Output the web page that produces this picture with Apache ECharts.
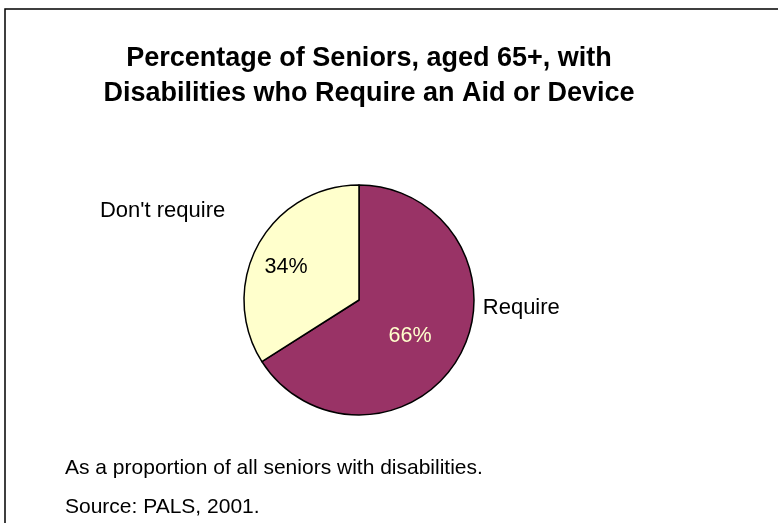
<!DOCTYPE html>
<html>
<head>
<meta charset="utf-8">
<script src="https://cdn.jsdelivr.net/npm/echarts@6/dist/echarts.min.js"></script>
<style>
html,body{margin:0;padding:0;background:#fff;}
#chart{width:778px;height:523px;}
</style>
</head>
<body>
<div id="chart"></div>
<script>
const titleText = "Percentage of Seniors, aged 65+, with\nDisabilities who Require an Aid or Device";
const categories = ["Require", "Don't require"];
const values = [66, 34];
const colors = ["#993366", "#FFFFCC"];
const pctLabelColors = ["#FFFFCC", "#000000"];
const footnotes = ["As a proportion of all seniors with disabilities.", "Source: PALS, 2001."];

const FONT = "'Liberation Sans', Arial, sans-serif";
const pctOffsets = [[-2, 7], [-20, -4]];
const nameOffsets = [[23, -47], [-33, -34]];

const chart = echarts.init(document.getElementById('chart'), null, {renderer: 'canvas'});

const mainData = categories.map((c, i) => ({
  name: c,
  value: values[i],
  itemStyle: {color: colors[i]},
  label: {color: pctLabelColors[i], offset: pctOffsets[i]}
}));
const nameData = categories.map((c, i) => ({
  name: c,
  value: values[i],
  label: {offset: nameOffsets[i]}
}));

const option = {
  animation: false,
  backgroundColor: '#ffffff',
  title: [
    {
      text: titleText,
      left: 369,
      top: 41,
      textAlign: 'center',
      padding: 0,
      textStyle: {fontFamily: FONT, fontSize: 27, fontWeight: 'bold', color: '#000', lineHeight: 35}
    },
    {
      text: footnotes[0],
      left: 65,
      top: 458,
      padding: 0,
      textStyle: {fontFamily: FONT, fontSize: 21, fontWeight: 'normal', color: '#000'}
    },
    {
      text: footnotes[1],
      left: 65,
      top: 497,
      padding: 0,
      textStyle: {fontFamily: FONT, fontSize: 21, fontWeight: 'normal', color: '#000'}
    }
  ],
  graphic: [
    {
      type: 'rect',
      silent: true,
      shape: {x: 5, y: 9, width: 800, height: 600},
      style: {fill: 'none', stroke: '#000', lineWidth: 1.5}
    }
  ],
  series: [
    {
      type: 'pie',
      center: [359, 300],
      radius: [0, 115],
      startAngle: 90,
      clockwise: true,
      data: mainData,
      itemStyle: {borderColor: '#000', borderWidth: 1.5},
      label: {
        show: true,
        position: 'inside',
        formatter: '{c}%',
        fontFamily: FONT,
        fontSize: 21.5
      },
      labelLine: {show: false},
      emphasis: {disabled: true}
    },
    {
      type: 'pie',
      center: [359, 300],
      radius: [0, 115],
      startAngle: 90,
      clockwise: true,
      silent: true,
      data: nameData,
      itemStyle: {color: 'rgba(0,0,0,0)', borderWidth: 0},
      label: {
        show: true,
        position: 'outside',
        formatter: '{b}',
        fontFamily: FONT,
        fontSize: 22,
        color: '#000',
        distanceToLabelLine: 0
      },
      labelLine: {show: false, length: 0, length2: 0},
      emphasis: {disabled: true}
    }
  ]
};
chart.setOption(option);
</script>
</body>
</html>
